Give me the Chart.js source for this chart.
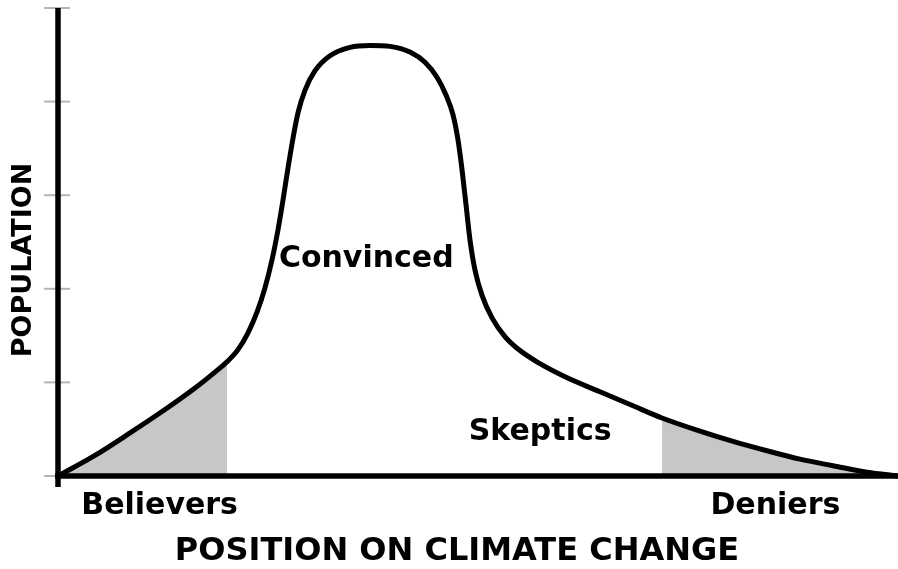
<!DOCTYPE html>
<html>
<head>
<meta charset="utf-8">
<script src="https://cdn.jsdelivr.net/npm/chart.js@4/dist/chart.umd.min.js"></script>
<style>
  body { margin: 0; background: #fff; }
  #wrap { width: 898px; height: 569px; }
</style>
</head>
<body>
<div id="wrap"><canvas id="opinion"></canvas></div>
<script>
// position on climate change (0 = believers, 100 = deniers)
const position = [0, 4.40, 8.57, 12.74, 16.31, 18.69, 20.12, 21.43, 22.62, 23.69, 24.64, 25.48, 26.19,
  26.79, 27.38, 27.98, 28.57, 29.40, 30.60, 32.38, 34.76, 37.14, 39.52, 41.90, 43.69, 45.12, 46.19,
  47.02, 47.62, 48.10, 48.57, 49.05, 49.64, 50.48, 51.67, 53.21, 55.00, 57.38, 60.36, 64.52, 68.45,
  71.90, 76.43, 80.36, 84.40, 88.33, 92.26, 96.31, 100];
// population share
const population = [0, 0.22, 0.46, 0.71, 0.94, 1.11, 1.22, 1.35, 1.53, 1.75, 2.01, 2.31, 2.63,
  2.95, 3.29, 3.61, 3.88, 4.12, 4.33, 4.49, 4.58, 4.60, 4.59, 4.53, 4.42, 4.26, 4.07,
  3.86, 3.59, 3.27, 2.90, 2.52, 2.20, 1.93, 1.69, 1.49, 1.34, 1.20, 1.06, 0.90, 0.75,
  0.62, 0.48, 0.37, 0.27, 0.18, 0.11, 0.04, 0];
const believersEnd = 20.12;
const deniersStart = 71.90;
const yTicks = [0, 1, 2, 3, 4, 5];
const xTitle = "POSITION ON CLIMATE CHANGE";
const yTitle = "POPULATION";

const font = "'DejaVu Sans', Verdana, sans-serif";
const shade = "#c6c7c9";

const curve = position.map((x, i) => ({ x: x, y: population[i] }));
const believers = curve.filter(p => p.x <= believersEnd);
const deniers = curve.filter(p => p.x >= deniersStart);

// where the texts go, in chart values
const groupLabels = [
  { text: "Convinced", x: 36.7, y: 2.23 },
  { text: "Skeptics", x: 57.4, y: 0.38 }
];
const endLabels = [
  { text: "Believers", x: 12.1 },
  { text: "Deniers", x: 85.4 }
];

const drawExtras = {
  id: "drawExtras",
  afterDatasetsDraw(c) {
    const ctx = c.ctx, xs = c.scales.x, ys = c.scales.y;
    ctx.save();
    // small gray ticks across the y axis
    ctx.strokeStyle = "#b5b5b5";
    ctx.lineWidth = 2;
    for (const t of yTicks) {
      const py = ys.getPixelForValue(t);
      ctx.beginPath();
      ctx.moveTo(xs.left - 14, py);
      ctx.lineTo(xs.left + 12, py);
      ctx.stroke();
    }
    // axes
    ctx.strokeStyle = "#000";
    ctx.lineWidth = 5.5;
    ctx.beginPath();
    ctx.moveTo(xs.left, ys.top);
    ctx.lineTo(xs.left, ys.bottom + 11);
    ctx.moveTo(xs.left - 3, ys.bottom);
    ctx.lineTo(xs.right, ys.bottom);
    ctx.stroke();

    ctx.fillStyle = "#000";
    ctx.textAlign = "center";
    ctx.textBaseline = "alphabetic";
    ctx.font = "bold 30px " + font;
    for (const l of groupLabels) {
      ctx.fillText(l.text, xs.getPixelForValue(l.x), ys.getPixelForValue(l.y));
    }
    for (const l of endLabels) {
      ctx.fillText(l.text, xs.getPixelForValue(l.x), ys.bottom + 38);
    }
    ctx.font = "bold 32px " + font;
    ctx.fillText(xTitle, xs.getPixelForValue(47.5), ys.bottom + 84);

    ctx.translate(24, 260);
    ctx.rotate(-Math.PI / 2);
    ctx.textBaseline = "middle";
    ctx.font = "bold 27px " + font;
    ctx.fillText(yTitle, 0, 0);
    ctx.restore();
  }
};

const lineStyle = { cubicInterpolationMode: "monotone", pointRadius: 0 };

new Chart(document.getElementById("opinion"), {
  type: "line",
  data: {
    datasets: [{
      ...lineStyle,
      data: curve,
      borderColor: "#000",
      borderWidth: 5,
      fill: false,
      clip: false
    }, {
      ...lineStyle,
      data: believers,
      borderWidth: 0,
      backgroundColor: shade,
      fill: "origin"
    }, {
      ...lineStyle,
      data: deniers,
      borderWidth: 0,
      backgroundColor: shade,
      fill: "origin"
    }]
  },
  options: {
    responsive: true,
    maintainAspectRatio: false,
    animation: false,
    layout: { padding: { left: 58, right: 0, top: 8, bottom: 93 } },
    plugins: { legend: { display: false }, tooltip: { enabled: false } },
    scales: {
      x: { type: "linear", min: 0, max: 100, display: false },
      y: { min: 0, max: 5, display: false }
    }
  },
  plugins: [drawExtras]
});
</script>
</body>
</html>
